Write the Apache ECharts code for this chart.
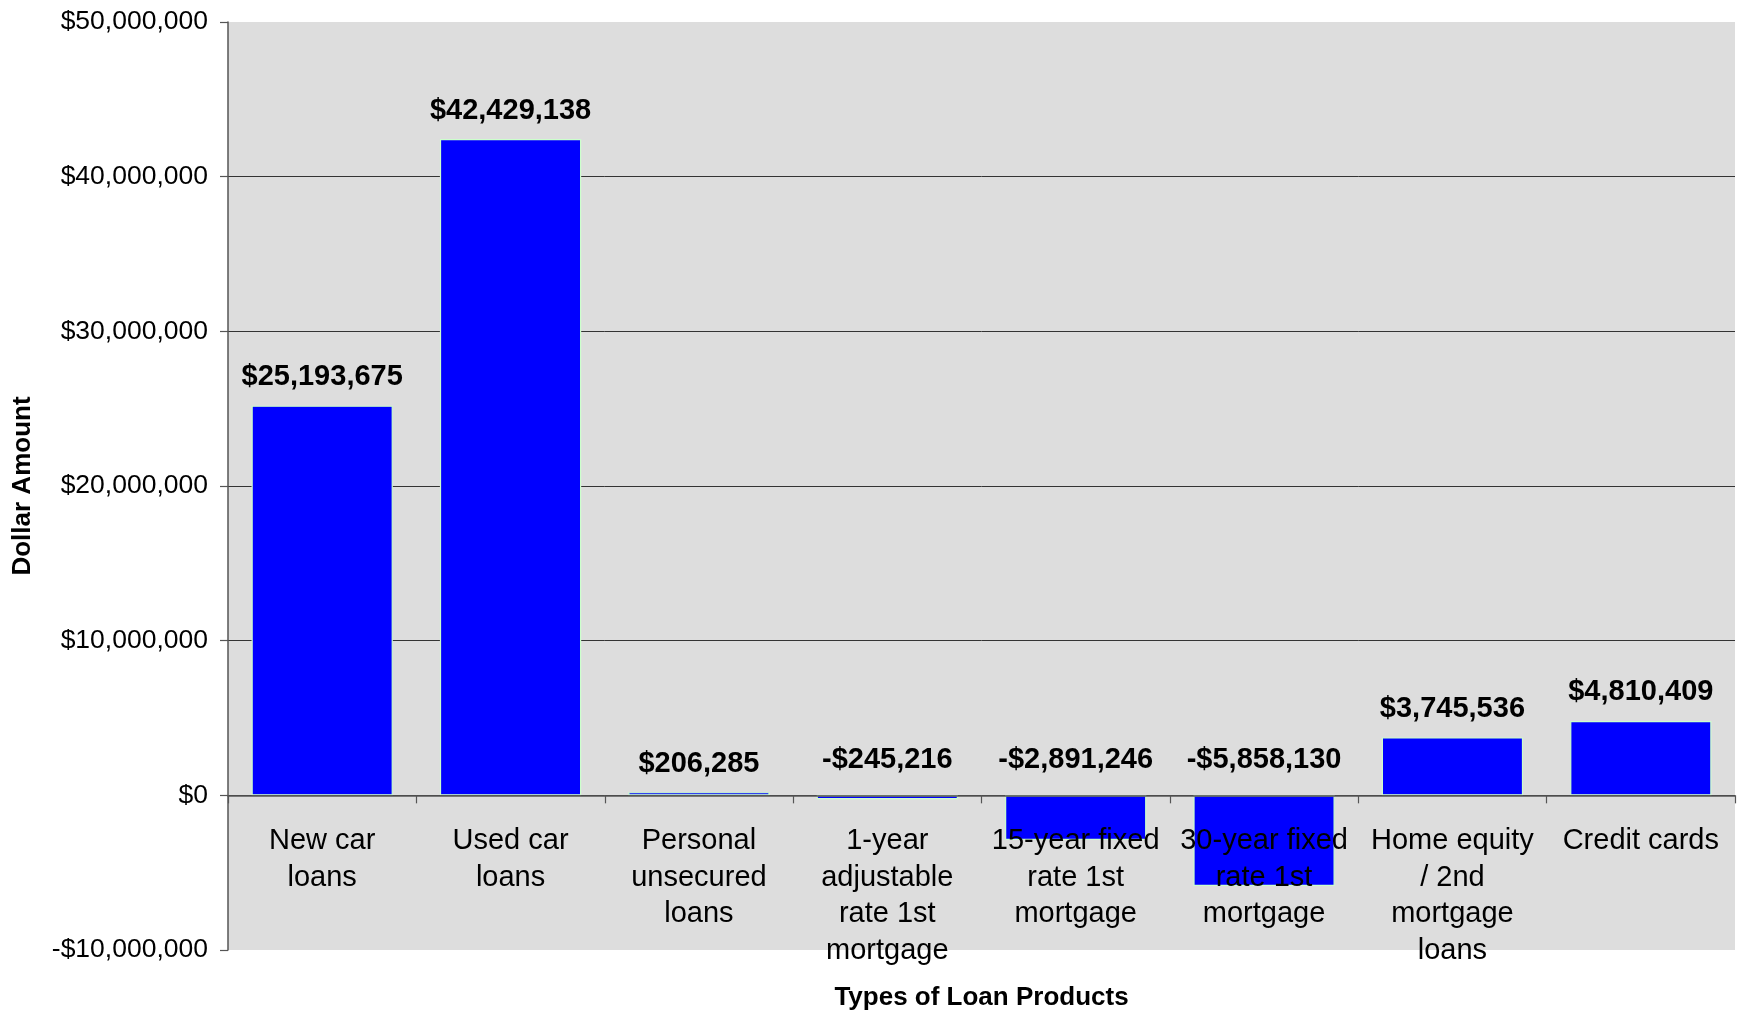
<!DOCTYPE html>
<html>
<head>
<meta charset="utf-8">
<script src="https://cdn.jsdelivr.net/npm/echarts@6/dist/echarts.min.js"></script>
<style>
html,body{margin:0;padding:0;background:#fff;}
#chart{width:1743px;height:1013px;}
</style>
</head>
<body>
<div id="chart"></div>
<script>
const categories = [
  "New car\nloans",
  "Used car\nloans",
  "Personal\nunsecured\nloans",
  "1-year\nadjustable\nrate 1st\nmortgage",
  "15-year fixed\nrate 1st\nmortgage",
  "30-year fixed\nrate 1st\nmortgage",
  "Home equity\n/ 2nd\nmortgage\nloans",
  "Credit cards"
];
const values = [25193675, 42429138, 206285, -245216, -2891246, -5858130, 3745536, 4810409];
const yMin = -10000000;
const yMax = 50000000;
const yStep = 10000000;
const xTitle = "Types of Loan Products";
const yTitle = "Dollar Amount";

const FONT = 'Arial, "Liberation Sans", sans-serif';
function money(v){
  const s = Math.abs(Math.round(v)).toString().replace(/\B(?=(\d{3})+(?!\d))/g, ",");
  return (v < 0 ? "-$" : "$") + s;
}

const chart = echarts.init(document.getElementById('chart'));
chart.setOption({
  animation: false,
  backgroundColor: '#ffffff',
  grid: {
    left: 228, right: 8, top: 22, bottom: 63,
    containLabel: false,
    outerBoundsMode: 'none',
    show: true, backgroundColor: '#dddddd', borderWidth: 0
  },
  xAxis: {
    type: 'category',
    data: categories,
    z: 5,
    name: xTitle,
    nameLocation: 'middle',
    nameGap: 35,
    nameTextStyle: { fontFamily: FONT, fontSize: 26, fontWeight: 'bold', color: '#000' },
    axisLine: { onZero: true, lineStyle: { color: '#555555', width: 1.5 } },
    axisTick: { show: true, length: 8, inside: false, lineStyle: { color: '#555555', width: 1.2 } },
    axisLabel: {
      interval: 0, margin: -127,
      fontFamily: FONT, fontSize: 29, color: '#000', lineHeight: 36.5,
      verticalAlign: 'top'
    },
    splitLine: { show: false }
  },
  yAxis: {
    type: 'value',
    min: yMin, max: yMax, interval: yStep,
    name: yTitle,
    nameLocation: 'middle',
    nameGap: 192,
    nameRotate: 90,
    nameTextStyle: { fontFamily: FONT, fontSize: 26, fontWeight: 'bold', color: '#000' },
    axisLine: { show: true, lineStyle: { color: '#555555', width: 1.5 } },
    axisTick: { show: true, length: 8, lineStyle: { color: '#555555', width: 1.2 } },
    axisLabel: {
      margin: 20, fontFamily: FONT, fontSize: 26.5, color: '#000',
      formatter: v => money(v)
    },
    splitLine: { show: true, showMinLine: false, showMaxLine: false, lineStyle: { color: '#333333', width: 1 } }
  },
  series: [{
    type: 'bar',
    data: values.map(v => ({
      value: v,
      label: { distance: v < 0 ? 21 : 14 }
    })),
    barWidth: '75%',
    itemStyle: { color: '#0000ff', borderColor: '#ccffcc', borderWidth: 1.2 },
    label: {
      show: true, position: 'top',
      fontFamily: FONT, fontSize: 29, fontWeight: 'bold', color: '#000',
      formatter: p => money(p.value)
    }
  }]
});
</script>
</body>
</html>
